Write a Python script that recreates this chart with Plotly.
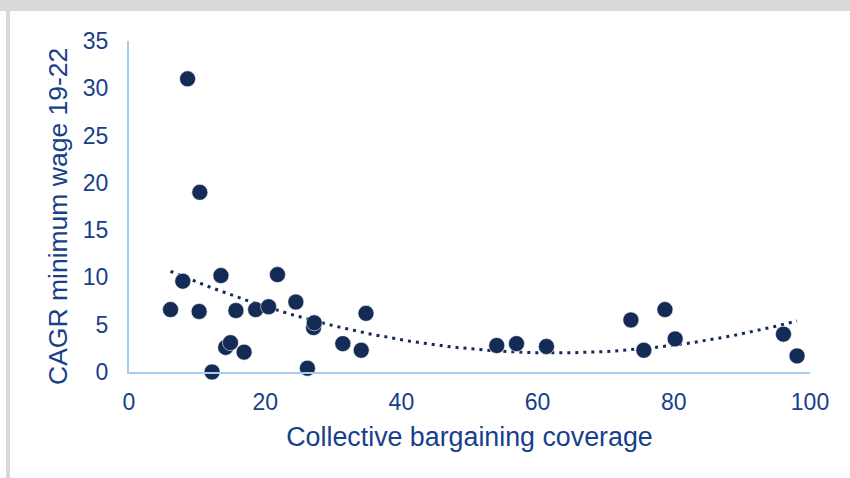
import numpy as np
import plotly.graph_objects as go

# Collective bargaining coverage (%) vs. compound annual growth of the minimum wage 2019-22 (%)
coverage = [6.1, 7.9, 8.6, 10.4, 10.3, 12.2, 13.5, 14.2, 14.9, 15.7,
            16.9, 18.6, 20.5, 21.8, 24.5, 26.2, 27.1, 27.2, 31.4, 34.8,
            34.1, 54.0, 56.9, 61.3, 73.7, 75.6, 78.7, 80.2, 96.1, 98.1]
cagr = [6.6, 9.6, 31.0, 19.0, 6.4, 0.0, 10.2, 2.6, 3.1, 6.5,
        2.1, 6.6, 6.9, 10.3, 7.4, 0.4, 4.7, 5.2, 3.0, 6.2,
        2.3, 2.8, 3.0, 2.7, 5.5, 2.3, 6.6, 3.5, 4.0, 1.7]

x_ticks = [0, 20, 40, 60, 80, 100]
y_ticks = [0, 5, 10, 15, 20, 25, 30, 35]

NAVY = "#132B55"
TEXT = "#17408B"
AXIS = "#A9CBF0"
FONT = "Liberation Sans, Arial, sans-serif"

# Second-order polynomial trendline through the points
coef = np.polyfit(coverage, cagr, 2)
trend_x = np.linspace(min(coverage), max(coverage), 200)
trend_y = np.polyval(coef, trend_x)

W, H = 850, 478
L, R, T, B = 129, 40, 41, 106
pw, ph = W - L - R, H - T - B


def px(xp):
    return (xp - L) / pw


def py(yp):
    return (H - B - yp) / ph


fig = go.Figure()
fig.add_trace(go.Scatter(
    x=trend_x, y=trend_y, mode="lines",
    line=dict(color=NAVY, width=3, dash="3px,5px"),
    hoverinfo="skip", showlegend=False,
))
fig.add_trace(go.Scatter(
    x=coverage, y=cagr, mode="markers",
    marker=dict(color=NAVY, size=16, line=dict(width=0.8, color="rgba(255,255,255,0.7)")),
    cliponaxis=False, showlegend=False,
))

# Frame: grey band along the top and a grey rule down the left side
fig.add_shape(type="rect", xref="paper", yref="paper",
              x0=px(0), x1=px(W), y0=py(11), y1=py(0),
              fillcolor="#D9D9D9", line=dict(width=0))
fig.add_shape(type="rect", xref="paper", yref="paper",
              x0=px(6), x1=px(10), y0=py(H), y1=py(11),
              fillcolor="#D9D9D9", line=dict(width=0))

# Vertical axis title
fig.add_annotation(
    text="CAGR minimum wage 19-22", textangle=-90,
    xref="paper", yref="paper", x=px(58), y=py(217),
    xanchor="center", yanchor="middle", showarrow=False,
    font=dict(size=26.5, color=TEXT, family=FONT),
)

fig.update_layout(
    width=W, height=H,
    margin=dict(l=L, r=R, t=T, b=B, pad=0),
    paper_bgcolor="white", plot_bgcolor="white",
    font=dict(family=FONT, color=TEXT),
    xaxis=dict(
        range=[0, 100], tickvals=x_ticks, showgrid=False, zeroline=False,
        showline=True, linecolor=AXIS, linewidth=2, ticks="",
        tickfont=dict(size=23, color=TEXT, family=FONT), ticklabelstandoff=8,
        title=dict(text="Collective bargaining coverage",
                   font=dict(size=26.8, color=TEXT, family=FONT), standoff=14),
    ),
    yaxis=dict(
        range=[0, 35], tickvals=y_ticks, showgrid=False, zeroline=False,
        showline=True, linecolor=AXIS, linewidth=2, ticks="",
        tickfont=dict(size=23, color=TEXT, family=FONT), ticklabelstandoff=14,
    ),
)

fig.write_html("out.html")
